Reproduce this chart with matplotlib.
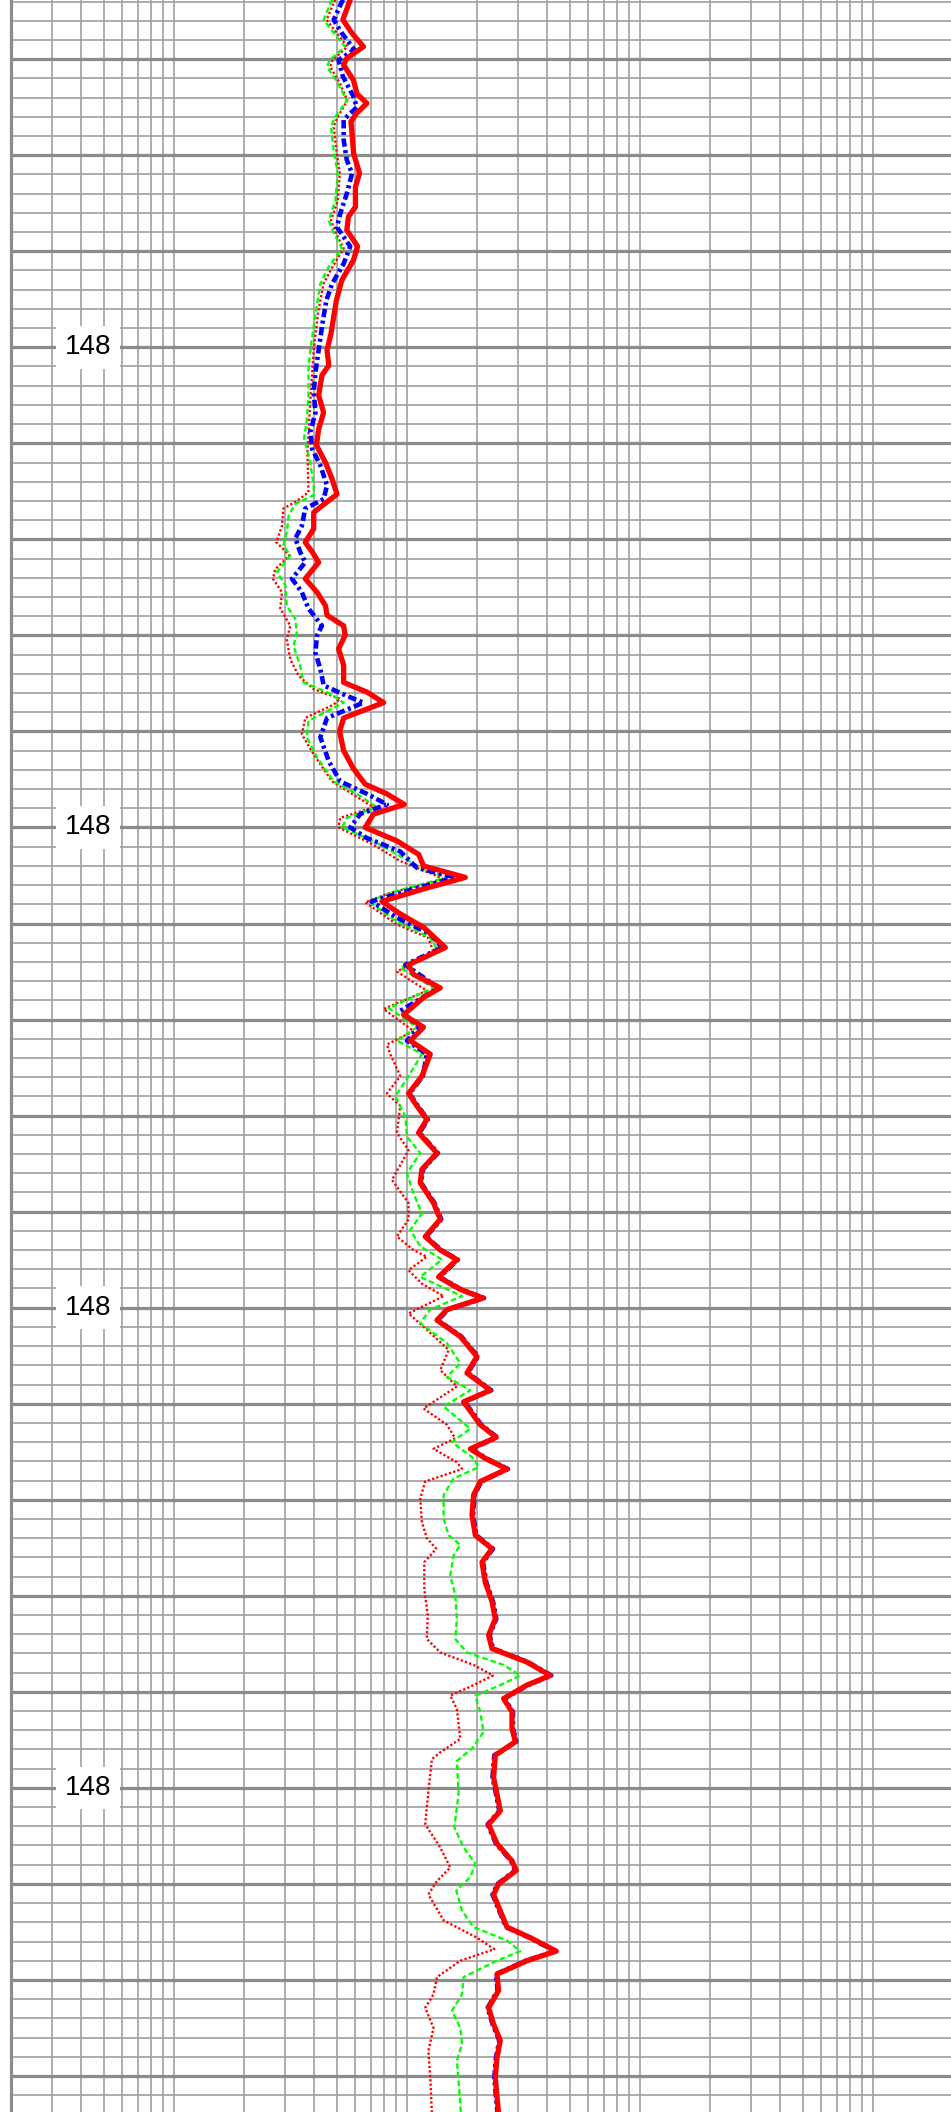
import numpy as np
import matplotlib
matplotlib.use("Agg")
import matplotlib.pyplot as plt
from matplotlib.ticker import FixedLocator, MultipleLocator

plt.rcParams['font.family'] = ['Liberation Sans', 'DejaVu Sans']
plt.rcParams['lines.scale_dashes'] = False

deep = [(1.38, 5.71), (1.59, 5.31), (1.73, 5.81), (1.87, 6.51), (1.99, 5.52), (2.06, 5.35), (2.22, 5.90),
        (2.36, 6.10), (2.46, 6.73), (2.56, 6.10), (2.65, 5.75), (2.77, 5.81), (2.98, 5.90), (3.19, 6.26),
        (3.33, 6.01), (3.54, 6.01), (3.64, 5.61), (3.78, 5.52), (3.95, 6.14), (4.09, 5.90), (4.30, 5.26),
        (4.51, 4.98), (4.72, 4.82), (4.86, 4.72), (5.03, 4.54), (5.19, 4.62), (5.29, 4.32), (5.50, 4.18),
        (5.68, 4.39), (5.85, 4.18), (6.02, 4.09), (6.20, 4.47), (6.37, 4.77), (6.53, 5.01), (6.61, 4.54),
        (6.72, 3.98), (6.89, 3.98), (7.03, 3.66), (7.13, 3.92), (7.24, 4.18), (7.41, 3.66), (7.55, 4.11),
        (7.69, 4.47), (7.79, 4.54), (7.90, 5.35), (8.00, 5.43), (8.14, 5.09), (8.31, 5.35), (8.49, 5.35),
        (8.59, 6.73), (8.70, 7.94), (8.86, 5.35), (9.00, 5.14), (9.20, 5.35), (9.38, 5.87), (9.55, 6.62),
        (9.65, 8.20), (9.76, 9.74), (9.86, 7.19), (10.00, 6.62), (10.14, 9.06), (10.28, 11.22), (10.40, 11.78),
        (10.52, 17.80), (10.63, 12.17), (10.77, 7.81), (10.90, 9.36), (11.04, 11.78), (11.25, 14.61),
        (11.43, 10.16), (11.53, 10.67), (11.67, 13.90), (11.77, 11.78), (11.95, 9.67), (12.08, 11.78),
        (12.22, 10.33), (12.36, 12.59), (12.59, 11.59), (12.77, 10.16), (12.90, 11.03), (13.04, 12.17),
        (13.18, 11.22), (13.39, 13.45), (13.56, 11.59), (13.70, 11.40), (13.91, 13.00), (14.08, 13.90),
        (14.26, 11.98), (14.40, 13.90), (14.50, 16.38), (14.68, 13.67), (14.81, 16.94), (14.90, 21.20),
        (15.02, 14.85), (15.13, 13.45), (15.30, 16.94), (15.51, 19.97), (15.68, 18.09), (15.86, 22.78),
        (15.98, 17.50), (16.22, 20.64), (16.35, 24.17), (16.47, 18.70), (16.57, 21.69), (16.68, 26.86),
        (16.81, 20.64), (16.95, 19.32), (17.16, 19.02), (17.37, 19.65), (17.51, 23.17), (17.65, 20.99),
        (17.86, 21.69), (18.06, 23.17), (18.24, 23.94), (18.41, 22.41), (18.55, 23.17), (18.69, 32.72),
        (18.83, 41.21), (18.93, 32.72), (19.07, 25.98), (19.21, 28.23), (19.38, 28.23), (19.52, 29.18),
        (19.66, 23.94), (19.89, 23.53), (20.06, 24.33), (20.24, 25.15), (20.38, 22.41), (20.58, 24.33),
        (20.76, 28.23), (20.86, 29.45), (21.00, 24.74), (21.11, 23.53), (21.28, 25.15), (21.45, 26.86),
        (21.56, 33.83), (21.70, 43.72), (21.80, 32.72), (21.94, 24.33), (22.11, 24.74), (22.29, 22.41),
        (22.46, 23.53), (22.63, 25.15), (22.81, 24.33), (23.02, 23.94), (23.40, 24.74)]

medium = [(1.38, 5.31), (1.59, 4.85), (1.73, 5.26), (1.90, 5.94), (2.01, 5.09), (2.18, 5.31), (2.39, 5.90),
          (2.50, 6.10), (2.63, 5.35), (2.84, 5.35), (3.05, 5.52), (3.19, 5.81), (3.40, 5.52), (3.61, 5.17),
          (3.75, 5.01), (3.95, 5.71), (4.13, 5.35), (4.34, 4.77), (4.51, 4.51), (4.72, 4.36), (5.03, 4.18),
          (5.26, 4.05), (5.47, 3.98), (5.68, 4.05), (5.88, 3.85), (6.06, 3.92), (6.23, 4.25), (6.44, 4.54),
          (6.58, 4.39), (6.68, 3.66), (6.86, 3.54), (6.99, 3.32), (7.13, 3.48), (7.24, 3.66), (7.41, 3.21),
          (7.55, 3.54), (7.72, 3.78), (7.90, 4.32), (8.00, 4.11), (8.18, 4.05), (8.35, 4.25), (8.52, 4.39),
          (8.63, 5.52), (8.70, 6.51), (8.86, 4.54), (9.06, 4.25), (9.31, 4.62), (9.52, 5.17), (9.65, 6.73),
          (9.76, 8.20), (9.86, 6.30), (10.00, 5.71), (10.11, 6.73), (10.25, 9.36), (10.42, 11.03),
          (10.52, 16.12), (10.66, 10.00), (10.77, 7.05), (10.94, 9.06), (11.11, 12.59), (11.25, 14.14),
          (11.43, 9.84), (11.67, 13.67), (11.91, 9.36), (12.08, 11.40), (12.22, 10.00), (12.36, 12.17),
          (12.59, 11.70), (12.77, 10.26), (12.90, 11.14), (13.04, 12.29), (13.18, 11.33), (13.39, 13.58),
          (13.56, 11.71), (13.70, 11.51), (13.91, 13.13), (14.08, 14.04), (14.26, 12.10), (14.40, 14.04),
          (14.50, 16.54), (14.68, 13.81), (14.81, 17.11), (14.90, 21.41), (15.02, 15.00), (15.13, 13.58),
          (15.30, 17.11), (15.51, 20.17), (15.68, 18.27), (15.86, 23.01), (15.98, 17.68), (16.22, 20.85),
          (16.35, 24.41), (16.47, 18.89), (16.57, 21.91), (16.68, 27.13), (16.81, 20.85), (16.95, 19.51),
          (17.16, 19.21), (17.37, 19.85), (17.51, 23.40), (17.65, 21.20), (17.86, 21.91), (18.06, 23.40),
          (18.24, 24.18), (18.41, 22.63), (18.55, 23.40), (18.69, 33.05), (18.83, 41.62), (18.93, 33.05),
          (19.07, 26.24), (19.21, 28.51), (19.38, 28.51), (19.52, 29.47), (19.66, 23.70), (19.89, 23.29),
          (20.06, 24.09), (20.24, 24.90), (20.38, 22.19), (20.58, 24.09), (20.76, 27.95), (20.86, 29.16),
          (21.00, 24.49), (21.11, 23.29), (21.28, 24.90), (21.45, 26.59), (21.56, 33.49), (21.70, 43.28),
          (21.80, 32.39), (21.94, 24.09), (22.11, 24.49), (22.29, 22.19), (22.46, 23.29), (22.63, 24.90),
          (22.81, 24.09), (23.02, 23.70), (23.40, 24.49)]

shallow = [(1.38, 4.77), (1.59, 4.39), (1.77, 5.01), (1.87, 5.43), (2.01, 4.66), (2.08, 4.54), (2.25, 5.05),
           (2.43, 5.52), (2.60, 4.93), (2.70, 4.72), (2.95, 4.85), (3.19, 5.05), (3.47, 4.93), (3.68, 4.62),
           (3.81, 4.85), (3.97, 5.26), (4.16, 4.62), (4.34, 4.25), (4.65, 4.05), (5.03, 3.85), (5.22, 3.78),
           (5.50, 3.78), (5.75, 3.72), (5.95, 3.62), (6.16, 3.82), (6.44, 3.98), (6.54, 3.98), (6.63, 3.32),
           (6.75, 3.11), (6.93, 3.05), (7.06, 2.95), (7.17, 3.16), (7.34, 2.77), (7.48, 3.01), (7.69, 3.05),
           (7.83, 3.32), (7.97, 3.37), (8.11, 3.26), (8.31, 3.48), (8.49, 3.59), (8.59, 4.54), (8.70, 5.35),
           (8.89, 3.78), (9.06, 3.72), (9.27, 4.11), (9.52, 4.85), (9.65, 6.10), (9.79, 7.43), (9.90, 5.52),
           (10.00, 5.26), (10.14, 7.19), (10.31, 9.52), (10.45, 12.17), (10.52, 14.85), (10.66, 9.06),
           (10.77, 6.84), (10.97, 8.91), (11.15, 12.59), (11.29, 13.67), (11.46, 9.36), (11.67, 13.00),
           (11.88, 8.34), (12.08, 11.03), (12.22, 9.06), (12.36, 11.59), (12.59, 10.16), (12.80, 8.91),
           (13.01, 9.84), (13.22, 10.00), (13.39, 11.40), (13.60, 10.00), (13.81, 10.67), (14.02, 11.59),
           (14.19, 10.33), (14.36, 11.40), (14.50, 14.14), (14.68, 11.40), (14.88, 17.23), (15.02, 12.59),
           (15.16, 11.40), (15.37, 14.85), (15.58, 16.94), (15.72, 14.85), (15.86, 18.70), (16.03, 14.37),
           (16.26, 18.70), (16.40, 15.60), (16.57, 19.32), (16.66, 20.31), (16.78, 15.85), (16.95, 14.37),
           (17.20, 14.37), (17.37, 15.10), (17.47, 16.94), (17.58, 15.85), (17.79, 15.34), (17.99, 16.12),
           (18.24, 16.38), (18.45, 16.12), (18.59, 18.09), (18.72, 25.98), (18.83, 30.64), (18.93, 25.15),
           (19.04, 19.65), (19.21, 20.64), (19.42, 21.32), (19.59, 19.02), (19.72, 16.38), (20.06, 16.66),
           (20.41, 15.97), (20.62, 17.50), (20.79, 19.65), (20.93, 18.70), (21.07, 16.28), (21.28, 17.23),
           (21.45, 19.32), (21.59, 26.86), (21.70, 30.64), (21.80, 24.33), (21.97, 17.50), (22.15, 17.23),
           (22.32, 15.60), (22.50, 16.94), (22.67, 17.23), (22.84, 16.38), (23.19, 16.82), (23.40, 17.06)]

micro = [(1.38, 4.92), (1.59, 4.52), (1.77, 5.15), (1.87, 5.55), (2.01, 4.80), (2.08, 4.68), (2.25, 5.15),
         (2.43, 5.55), (2.60, 5.05), (2.70, 4.85), (2.95, 4.98), (3.19, 5.15), (3.47, 5.05), (3.68, 4.72),
         (3.81, 4.95), (3.97, 5.35), (4.16, 4.80), (4.34, 4.38), (4.65, 4.15), (5.03, 3.98), (5.55, 3.85),
         (6.09, 3.74), (6.51, 3.78), (6.60, 3.37), (6.68, 2.95), (6.86, 2.91), (7.03, 2.75), (7.17, 3.14),
         (7.31, 2.72), (7.41, 2.66), (7.55, 2.91), (7.72, 2.86), (7.90, 3.16), (8.04, 3.05), (8.25, 3.16),
         (8.42, 3.43), (8.56, 3.98), (8.66, 5.17), (8.72, 4.85), (8.86, 3.66), (9.03, 3.54), (9.24, 3.98),
         (9.52, 4.77), (9.65, 5.81), (9.79, 7.19), (9.90, 5.17), (10.00, 5.09), (10.18, 7.19), (10.35, 9.36),
         (10.49, 13.00), (10.54, 14.37), (10.68, 8.48), (10.78, 6.62), (11.01, 9.06), (11.15, 12.36),
         (11.30, 13.00), (11.50, 9.06), (11.70, 12.17), (11.89, 7.94), (12.12, 10.67), (12.26, 8.20),
         (12.36, 8.48), (12.59, 9.36), (12.77, 8.20), (12.90, 9.36), (13.18, 9.06), (13.36, 10.16),
         (13.67, 8.62), (13.91, 10.16), (14.08, 10.16), (14.26, 9.06), (14.40, 10.67), (14.47, 12.17),
         (14.61, 10.16), (14.75, 11.59), (14.88, 14.37), (15.06, 10.16), (15.23, 12.17), (15.44, 15.10),
         (15.65, 13.90), (15.82, 16.38), (16.05, 11.78), (16.22, 14.85), (16.36, 16.12), (16.47, 13.00),
         (16.61, 16.38), (16.68, 17.23), (16.81, 11.98), (16.99, 11.40), (17.23, 11.59), (17.40, 12.17),
         (17.51, 13.36), (17.65, 11.87), (17.93, 11.87), (18.20, 12.28), (18.45, 12.17), (18.59, 13.90),
         (18.72, 19.32), (18.83, 23.40), (18.93, 19.32), (19.04, 15.34), (19.18, 16.38), (19.49, 16.94),
         (19.63, 13.90), (19.70, 12.80), (20.03, 12.36), (20.38, 11.98), (20.62, 13.90), (20.83, 15.34),
         (20.97, 13.45), (21.11, 12.36), (21.38, 14.37), (21.56, 19.97), (21.68, 23.71), (21.80, 16.94),
         (21.97, 13.45), (22.15, 13.00), (22.29, 11.98), (22.50, 13.00), (22.74, 12.36), (23.02, 12.59),
         (23.40, 12.80)]

label_depths = [5, 10, 15, 20]
label_texts = ["148", "148", "148", "148"]

depth_top, depth_bottom = 1.384, 23.375
res_min, res_max = 0.2, 2160
# vertical grid: 1..9 in each decade, last line at 1000
grid_res = list(np.outer([0.1, 1, 10, 100], np.arange(1, 10)).ravel()) + [1000]

fig = plt.figure(figsize=(9.51, 21.12), dpi=100)
ax = fig.add_axes([11 / 951, 0, 940 / 951, 1])
ax.set_xscale('log')
ax.set_xlim(res_min, res_max)
ax.set_ylim(depth_bottom, depth_top)

ax.xaxis.set_major_locator(FixedLocator(grid_res))
ax.xaxis.set_minor_locator(FixedLocator([]))
ax.yaxis.set_major_locator(MultipleLocator(1))
ax.yaxis.set_minor_locator(MultipleLocator(0.2))
ax.grid(True, which='major', axis='x', color='#a0a0a0', lw=1.2, zorder=0)
ax.grid(True, which='minor', axis='y', color='#a0a0a0', lw=1.2, zorder=0)
ax.grid(True, which='major', axis='y', color='#8c8c8c', lw=2.3, zorder=0)
ax.set_axisbelow(True)
ax.tick_params(which='both', length=0, labelbottom=False, labelleft=False)

for side in ['top', 'bottom', 'right']:
    ax.spines[side].set_visible(False)
ax.spines['left'].set_color('#8c8c8c')
ax.spines['left'].set_linewidth(2.3)

for d, t in zip(label_depths, label_texts):
    ax.text(0.0819, d, t, transform=ax.get_yaxis_transform(), fontsize=20,
            ha='center', va='center', zorder=3,
            bbox=dict(boxstyle='square,pad=0.3', facecolor='white', edgecolor='none'))

styles = [
    (micro, dict(color='#ff0000', lw=1.7, ls=(0, (1.6, 1.6)))),
    (shallow, dict(color='#00ff00', lw=1.7, ls=(0, (4, 2.2)))),
    (medium, dict(color='#0000ff', lw=3.3, ls=(0, (6, 2.5, 2.2, 2.5)))),
    (deep, dict(color='#ff0000', lw=3.8, ls='-')),
]
for curve, kw in styles:
    depth, res = zip(*curve)
    ax.plot(res, depth, zorder=4, solid_joinstyle='round', dash_joinstyle='round', **kw)

fig.savefig("out.png", dpi=100)
